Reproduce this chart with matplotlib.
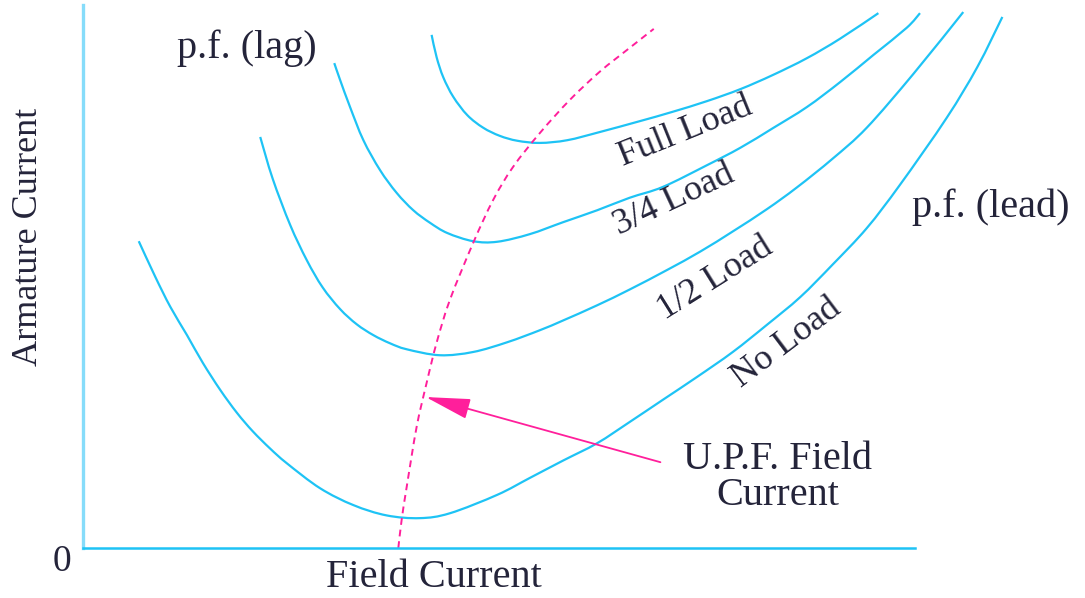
import matplotlib.pyplot as plt
from matplotlib.path import Path
from matplotlib.patches import PathPatch

# V-curves of a synchronous motor: armature current vs field current
# (arbitrary units, 0-10 on both axes)

no_load_if = [0.67, 0.87, 1.05, 1.25, 1.44, 1.65, 1.85, 2.04, 2.25, 2.45, 2.85, 3.25,
              3.65, 4.05, 4.41, 4.98, 5.37, 5.77, 6.18, 6.57, 6.97, 7.38, 7.81, 8.22,
              8.62, 9.01, 9.42, 9.82, 10.38, 10.75, 11.05]
no_load_ia = [5.65, 4.99, 4.44, 3.92, 3.41, 2.91, 2.49, 2.15, 1.83, 1.56, 1.10, 0.79,
              0.60, 0.55, 0.64, 0.98, 1.29, 1.61, 1.93, 2.32, 2.73, 3.15, 3.61, 4.11,
              4.62, 5.22, 5.89, 6.69, 7.92, 8.86, 9.78]

half_load_if = [2.13, 2.28, 2.49, 2.69, 2.88, 3.09, 3.29, 3.49, 3.69, 3.89, 4.29, 4.69,
                5.10, 5.49, 5.77, 6.18, 6.57, 7.02, 7.42, 7.81, 8.22, 8.58, 9.01, 9.42,
                9.98, 10.58]
half_load_ia = [7.57, 6.80, 5.95, 5.30, 4.80, 4.40, 4.12, 3.92, 3.77, 3.66, 3.55, 3.61,
                3.79, 4.01, 4.19, 4.47, 4.76, 5.12, 5.46, 5.83, 6.24, 6.64, 7.17, 7.74,
                8.73, 9.87]

three_q_load_if = [3.02, 3.09, 3.21, 3.37, 3.57, 3.77, 3.97, 4.17, 4.38, 4.69, 4.98, 5.37,
                   5.77, 6.18, 6.57, 6.97, 7.50, 7.90, 8.29, 8.70, 9.10, 9.50, 9.90, 10.06]
three_q_load_ia = [8.93, 8.62, 8.12, 7.51, 6.96, 6.54, 6.22, 5.99, 5.80, 5.65, 5.64, 5.78,
                   6.00, 6.22, 6.45, 6.65, 7.05, 7.37, 7.73, 8.12, 8.58, 9.08, 9.58, 9.85]

full_load_if = [4.19, 4.25, 4.33, 4.45, 4.62, 4.81, 5.01, 5.22, 5.49, 5.82, 6.21, 6.69,
                7.08, 7.50, 7.90, 8.29, 8.70, 9.10, 9.56]
full_load_ia = [9.45, 9.04, 8.67, 8.31, 7.97, 7.74, 7.59, 7.50, 7.46, 7.51, 7.66, 7.86,
                8.03, 8.23, 8.45, 8.71, 9.02, 9.38, 9.85]

# locus of minimum armature current (unity power factor)
upf_if = [3.79, 3.83, 3.89, 4.01, 4.13, 4.25, 4.41, 4.69, 4.93, 5.17, 5.49, 5.85, 6.21,
          6.57, 6.86]
upf_ia = [0.00, 0.52, 1.12, 2.23, 3.04, 3.78, 4.57, 5.62, 6.41, 7.02, 7.64, 8.25, 8.77,
          9.21, 9.56]

curve_labels = ['Full Load', '3/4 Load', '1/2 Load', 'No Load']

cyan = '#1ec3f5'
pink = '#ff1f9b'
ink = '#24243a'
serif = ['Liberation Serif', 'DejaVu Serif']


def smooth_path(xs, ys):
    # Catmull-Rom style cubic Bezier through the measured points
    pts = list(zip(xs, ys))
    n = len(pts)
    verts = [pts[0]]
    codes = [Path.MOVETO]
    for i in range(n - 1):
        p0 = pts[max(i - 1, 0)]
        p1 = pts[i]
        p2 = pts[i + 1]
        p3 = pts[min(i + 2, n - 1)]
        c1 = (p1[0] + (p2[0] - p0[0]) / 6, p1[1] + (p2[1] - p0[1]) / 6)
        c2 = (p2[0] - (p3[0] - p1[0]) / 6, p2[1] - (p3[1] - p1[1]) / 6)
        verts += [c1, c2, p2]
        codes += [Path.CURVE4] * 3
    return Path(verts, codes)


fig = plt.figure(figsize=(10.85, 5.98), dpi=100)
ax = fig.add_axes([83 / 1085, 50 / 598, 832 / 1085, 543 / 598])
ax.set_xlim(0, 10)
ax.set_ylim(0, 10)
ax.set_xticks([])
ax.set_yticks([])
ax.spines['top'].set_visible(False)
ax.spines['right'].set_visible(False)
ax.spines['left'].set_color('#86dcfa')
ax.spines['left'].set_linewidth(2.4)
ax.spines['bottom'].set_color(cyan)
ax.spines['bottom'].set_linewidth(1.8)

curves = [(full_load_if, full_load_ia), (three_q_load_if, three_q_load_ia),
          (half_load_if, half_load_ia), (no_load_if, no_load_ia)]
for xs, ys in curves:
    ax.add_patch(PathPatch(smooth_path(xs, ys), fill=False, ec=cyan, lw=1.6,
                           clip_on=False, capstyle='butt'))

ax.add_patch(PathPatch(smooth_path(upf_if, upf_ia), fill=False, ec=pink, lw=1.4,
                       ls=(0, (3.5, 2.5)), clip_on=False))

# curve names written along each curve
label_pos = [(7.24, 7.66, 22), (7.10, 6.41, 25), (7.60, 4.97, 32), (8.46, 3.78, 37)]
for name, (lx, ly, rot) in zip(curve_labels, label_pos):
    ax.text(lx, ly, name, rotation=rot, rotation_mode='anchor', ha='center', va='center',
            fontsize=26, family=serif, color=ink, clip_on=False)

ax.annotate('', xy=(4.12, 2.78), xytext=(6.94, 1.58),
            arrowprops=dict(arrowstyle='-|>,head_length=1.4,head_width=0.32',
                            mutation_scale=20, color=pink, lw=1.3, shrinkA=0, shrinkB=0),
            annotation_clip=False)

ax.text(8.35, 1.30, 'U.P.F. Field\nCurrent', ha='center', va='center', fontsize=29,
        family=serif, color=ink, linespacing=0.95)
ax.text(1.97, 9.21, 'p.f. (lag)', ha='center', va='center', fontsize=29, family=serif,
        color=ink)
ax.text(10.91, 6.28, 'p.f. (lead)', ha='center', va='center', fontsize=29, family=serif,
        color=ink, clip_on=False)
ax.text(4.22, -0.55, 'Field Current', ha='center', va='center', fontsize=29, family=serif,
        color=ink)
ax.text(-0.66, 5.73, 'Armature Current', rotation=90, ha='center', va='center',
        fontsize=26, family=serif, color=ink)
ax.text(-0.25, -0.26, '0', ha='center', va='center', fontsize=27, family=serif, color=ink)

fig.savefig('out.png', dpi=100)
